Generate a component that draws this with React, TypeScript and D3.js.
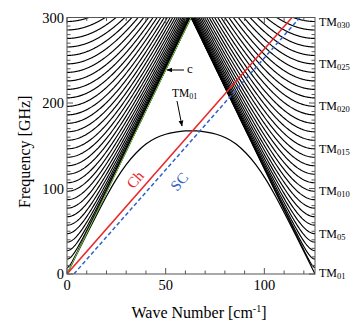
import React from "react";
import * as d3 from "d3";

const W = 354;
const H = 323;

// Axis ticks
const xMajorTicks = [0, 50, 100];
const xMinorTicks = [10, 20, 30, 40, 60, 70, 80, 90, 110, 120];
const yMajorTicks = [0, 100, 200, 300];
const yMinorTicks = d3.range(10, 300, 10).filter((v) => v % 100 !== 0);

// Domain constants
const kMax = 125.66; // grating wave number [cm^-1]
const fMax = 300; // GHz
const lightSlope = 4.7746; // GHz per cm^-1 (c / 2π)

// TM0n cutoff frequencies [GHz], n = 1..30
const cutoffs = [
  7.6, 17.4, 27.4, 37.3, 47.2, 57.1, 67.0, 77.0, 86.9, 96.8,
  106.7, 116.7, 126.6, 136.5, 146.4, 156.4, 166.3, 176.2, 186.1, 196.1,
  206.0, 215.9, 225.8, 235.8, 245.7, 255.6, 265.5, 275.5, 285.4, 295.3,
];

// right-side mode labels
const modeLabelSubs = ["01", "05", "010", "015", "020", "025", "030"];
const modeLabelIdx = [1, 5, 10, 15, 20, 25, 30];

// TM01 slow-wave arch
const archK = [0, 5, 10, 15, 20, 25, 30, 35, 40, 45, 50, 55, 60, 62.83,
  65.66, 70.66, 75.66, 80.66, 85.66, 90.66, 95.66, 100.66, 105.66, 110.66, 115.66, 120.66, 125.66];
const archF = [0, 23.5, 46.5, 69, 91, 111, 128, 141.5, 152, 159, 163.5, 166, 167.3, 167.5,
  167.3, 166, 163.5, 159, 152, 141.5, 128, 111, 91, 69, 46.5, 23.5, 0];

// Light line (green)
const lightK = [0, 62.83];
const lightF = [0, 300];

// Beam lines
const chK = [0, 114];
const chF = [0, 300];
const scK = [3.5, 118];
const scF = [0, 300];

const serif = "'Liberation Serif', 'Times New Roman', serif";

export default function App() {
  const x = d3.scaleLinear().domain([0, kMax]).range([67, 315]);
  const y = d3.scaleLinear().domain([0, fMax]).range([274, 17.5]);
  const [x0, x1] = x.range();
  const [y0, y1] = y.range();

  const line = d3
    .line<[number, number]>()
    .x((d) => x(d[0]))
    .y((d) => y(d[1]));
  const smooth = d3
    .line<[number, number]>()
    .x((d) => x(d[0]))
    .y((d) => y(d[1]))
    .curve(d3.curveMonotoneX);

  const modeCurve = (fc: number): [number, number][] => {
    const km = Math.sqrt(fMax * fMax - fc * fc) / lightSlope;
    return d3.range(0, 121).map((i) => {
      const k = (km * i) / 120;
      return [k, Math.sqrt(fc * fc + (lightSlope * k) ** 2)] as [number, number];
    });
  };

  const leftCurves = cutoffs.map((fc) => modeCurve(fc));
  const rightCurves = leftCurves.map((pts) =>
    pts.map((p) => [kMax - p[0], p[1]] as [number, number]).reverse()
  );

  const arch = archK.map((k, i) => [k, archF[i]] as [number, number]);
  const light = lightK.map((k, i) => [k, lightF[i]] as [number, number]);
  const ch = chK.map((k, i) => [k, chF[i]] as [number, number]);
  const sc = scK.map((k, i) => [k, scF[i]] as [number, number]);

  const slopePx = (y(0) - y(100)) / (x(100 / 2.63) - x(0));
  const angle = -(Math.atan(slopePx) * 180) / Math.PI;

  const axisColor = "#555";

  return (
    <svg width={W} height={H} style={{ position: "absolute", left: 0, top: 0, background: "#fff" }}>
      <defs>
        <clipPath id="plot">
          <rect x={x0} y={y1} width={x1 - x0} height={y0 - y1} />
        </clipPath>
        <marker id="arr" viewBox="0 0 10 10" refX="9" refY="5" markerWidth="6" markerHeight="6" orient="auto-start-reverse">
          <path d="M0,1 L10,5 L0,9 z" fill="#000" />
        </marker>
      </defs>

      <g clipPath="url(#plot)">
        {leftCurves.map((pts, i) => (
          <path key={"l" + i} d={line(pts) || ""} fill="none" stroke="#000" strokeWidth={1.15} />
        ))}
        {rightCurves.map((pts, i) => (
          <path key={"r" + i} d={line(pts) || ""} fill="none" stroke="#000" strokeWidth={1.15} />
        ))}
        <path d={smooth(arch) || ""} fill="none" stroke="#000" strokeWidth={1.2} />
        <path d={line(light) || ""} fill="none" stroke="#7dcc4a" strokeWidth={1} />
        <path d={line(sc) || ""} fill="none" stroke="#2f62c8" strokeWidth={1.5} strokeDasharray="4,2.5" />
        <path d={line(ch) || ""} fill="none" stroke="#e8262b" strokeWidth={1.5} />
      </g>

      {/* frame */}
      <rect x={x0} y={y1} width={x1 - x0} height={y0 - y1} fill="none" stroke={axisColor} strokeWidth={1} />

      {/* x ticks */}
      {xMajorTicks.map((t) => (
        <g key={"xm" + t}>
          <line x1={x(t)} x2={x(t)} y1={y0} y2={y0 - 6} stroke={axisColor} />
          <line x1={x(t)} x2={x(t)} y1={y1} y2={y1 + 6} stroke={axisColor} />
          <text x={x(t)} y={290} textAnchor="middle" fontFamily={serif} fontSize={14.5} fill="#000">
            {t}
          </text>
        </g>
      ))}
      {xMinorTicks.map((t) => (
        <g key={"xn" + t}>
          <line x1={x(t)} x2={x(t)} y1={y0} y2={y0 - 3.5} stroke={axisColor} />
          <line x1={x(t)} x2={x(t)} y1={y1} y2={y1 + 3.5} stroke={axisColor} />
        </g>
      ))}

      {/* y ticks */}
      {yMajorTicks.map((t) => (
        <g key={"ym" + t}>
          <line x1={x0} x2={x0 + 6} y1={y(t)} y2={y(t)} stroke={axisColor} />
          <line x1={x1} x2={x1 - 6} y1={y(t)} y2={y(t)} stroke={axisColor} />
          <text x={x0 - 3} y={y(t) + 5} textAnchor="end" fontFamily={serif} fontSize={14.5} fill="#000">
            {t}
          </text>
        </g>
      ))}
      {yMinorTicks.map((t) => (
        <g key={"yn" + t}>
          <line x1={x0} x2={x0 + 3.5} y1={y(t)} y2={y(t)} stroke={axisColor} />
          <line x1={x1} x2={x1 - 3.5} y1={y(t)} y2={y(t)} stroke={axisColor} />
        </g>
      ))}

      {/* right mode labels */}
      {modeLabelIdx.map((n, i) => (
        <text
          key={"tm" + n}
          x={x1 + 4}
          y={y(cutoffs[n - 1]) + 4 + (i === 0 ? 5 : 0)}
          fontFamily={serif}
          fontSize={12}
          fill="#000"
        >
          TM
          <tspan fontSize={8.5} dy={2}>
            {modeLabelSubs[i]}
          </tspan>
        </text>
      ))}

      {/* axis titles */}
      <text
        transform={`translate(30,${(y0 + y1) / 2 + 6}) rotate(-90)`}
        textAnchor="middle"
        fontFamily={serif}
        fontSize={16}
        fill="#000"
      >
        Frequency [GHz]
      </text>
      <text x={199} y={318} textAnchor="middle" fontFamily={serif} fontSize={16} fill="#000">
        Wave Number [cm
        <tspan fontSize={10} dy={-6}>
          -1
        </tspan>
        <tspan dy={6}>]</tspan>
      </text>

      {/* annotations */}
      <text x={187} y={73} fontFamily={serif} fontSize={13} fill="#000">
        c
      </text>
      <line x1={184} y1={70} x2={167} y2={70} stroke="#000" strokeWidth={1} markerEnd="url(#arr)" />

      <text x={172} y={97} fontFamily={serif} fontSize={11.5} fill="#000">
        TM
        <tspan fontSize={8} dy={2}>
          01
        </tspan>
      </text>
      <line x1={177} y1={101} x2={182} y2={126} stroke="#000" strokeWidth={1} markerEnd="url(#arr)" />

      <text
        transform={`translate(139,183) rotate(${angle})`}
        textAnchor="middle"
        fontFamily={serif}
        fontSize={15}
        fill="#e8262b"
      >
        Ch
      </text>
      <text
        transform={`translate(183,185) rotate(${angle})`}
        textAnchor="middle"
        fontFamily={serif}
        fontSize={15}
        fill="#2f62c8"
      >
        SC
      </text>
    </svg>
  );
}
